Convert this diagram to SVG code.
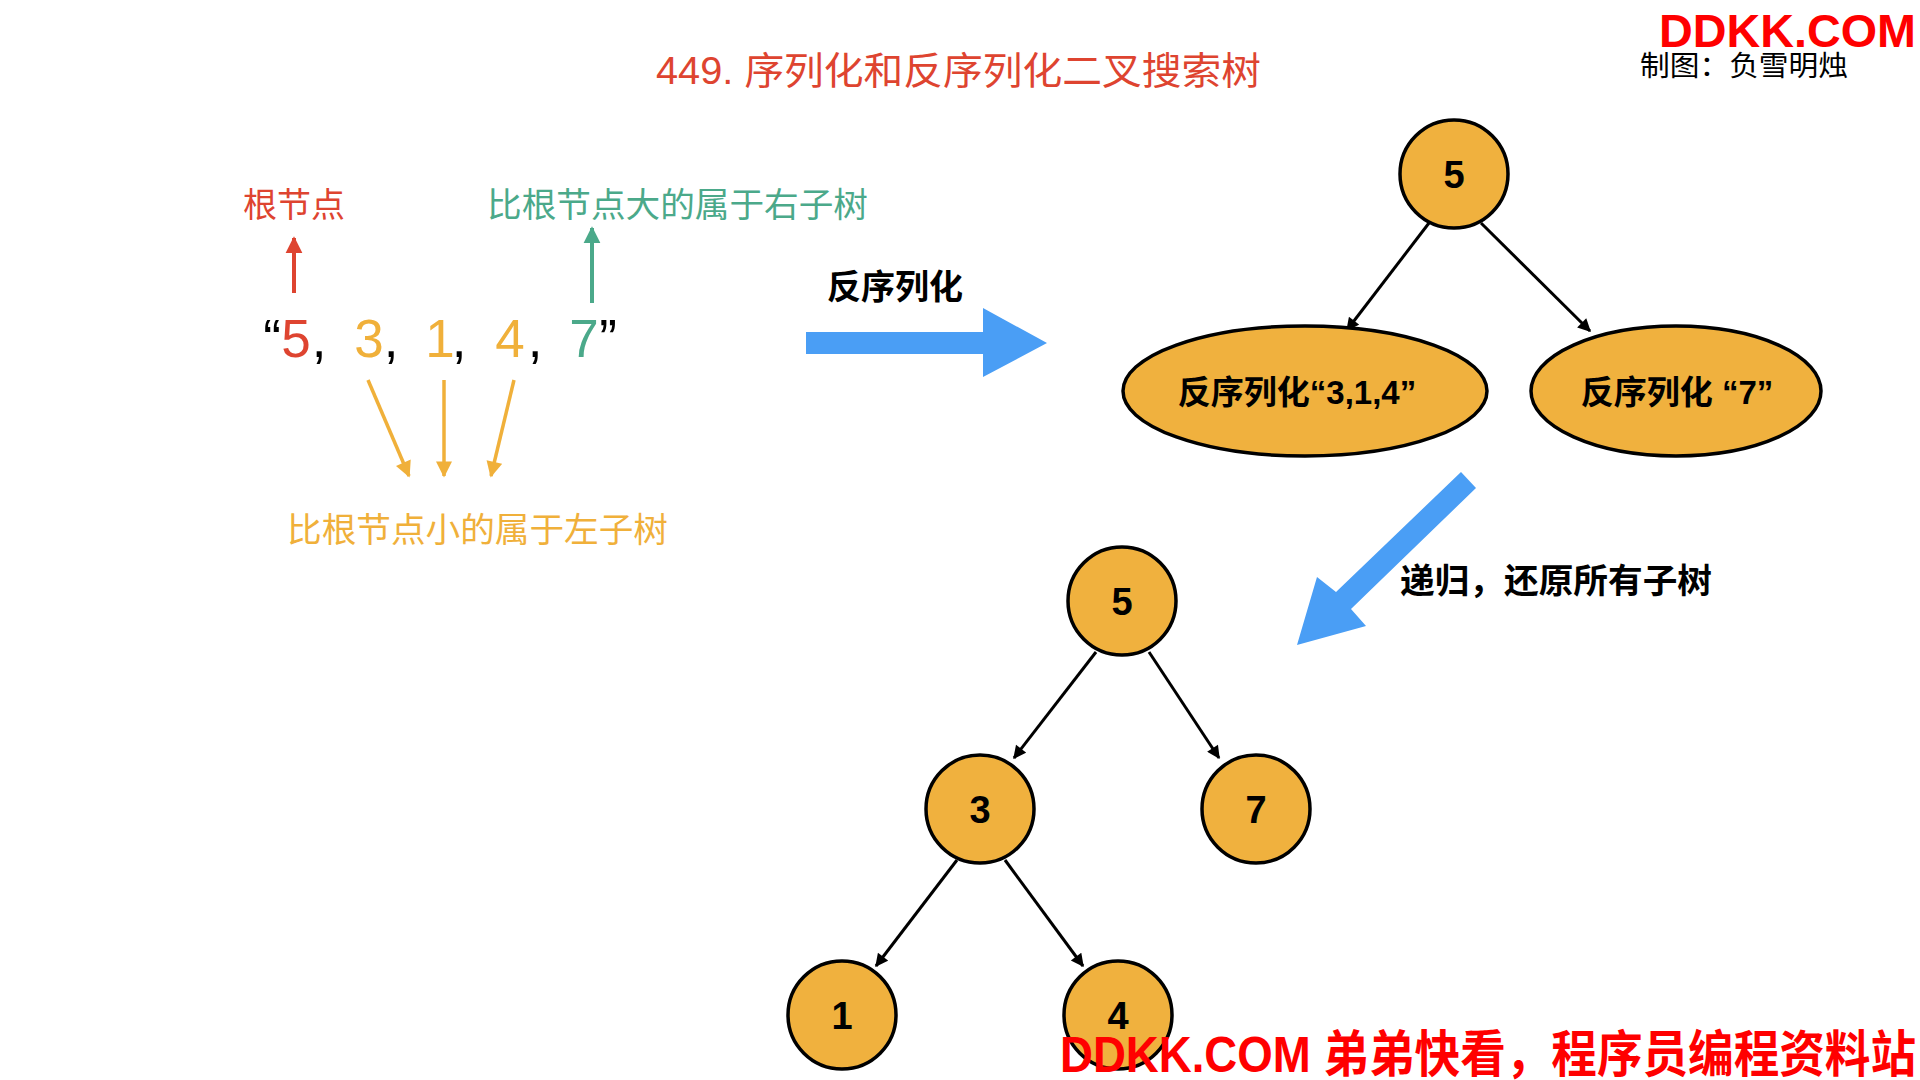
<svg xmlns="http://www.w3.org/2000/svg" width="1920" height="1080" viewBox="0 0 1920 1080">
<style>
text{font-family:"Liberation Sans","Noto Sans CJK SC",sans-serif}
.cjk{font-family:"Noto Sans CJK SC","Liberation Sans",sans-serif}
.node{fill:#F0B13E;stroke:#000;stroke-width:3.5}
.num{font-size:38px;font-weight:bold;fill:#000;text-anchor:middle}
.lbl{font-size:33px;font-weight:bold;fill:#000;text-anchor:middle}
.edge{stroke:#000;stroke-width:3;fill:none;marker-end:url(#ah)}
.blue{fill:#4A9EF5}
</style>
<defs>
<marker id="ah" viewBox="0 0 10 10" refX="9" refY="5" markerWidth="15" markerHeight="13" markerUnits="userSpaceOnUse" orient="auto"><path d="M0,0L10,5L0,10z" fill="#000"/></marker>
<marker id="ahr" viewBox="0 0 10 10" refX="9" refY="5" markerWidth="17" markerHeight="18" markerUnits="userSpaceOnUse" orient="auto"><path d="M0,0L10,5L0,10z" fill="#DE4430"/></marker>
<marker id="ahg" viewBox="0 0 10 10" refX="9" refY="5" markerWidth="17" markerHeight="18" markerUnits="userSpaceOnUse" orient="auto"><path d="M0,0L10,5L0,10z" fill="#4BA98A"/></marker>
<marker id="aho" viewBox="0 0 10 10" refX="9" refY="5" markerWidth="17" markerHeight="16" markerUnits="userSpaceOnUse" orient="auto"><path d="M0,0L10,5L0,10z" fill="#F0B03A"/></marker>
</defs>
<rect width="1920" height="1080" fill="#fff"/>

<g id="title">
<text x="656" y="84" font-size="38" fill="#DE4430" textLength="605" lengthAdjust="spacingAndGlyphs">449. 序列化和反序列化二叉搜索树</text>
</g>
<g id="watermark-top">
<text x="1659" y="47" font-size="47" font-weight="bold" fill="#FF0000" textLength="257" lengthAdjust="spacingAndGlyphs">DDKK.COM</text>
<text class="cjk" x="1640" y="76" font-size="28" fill="#000" textLength="208" lengthAdjust="spacingAndGlyphs">制图：负雪明烛</text>
</g>

<g id="left-explain">
<text class="cjk" x="243" y="217" font-size="34" fill="#DE4430" textLength="102" lengthAdjust="spacingAndGlyphs">根节点</text>
<text class="cjk" x="487" y="217" font-size="34" fill="#4BA98A" textLength="381" lengthAdjust="spacingAndGlyphs">比根节点大的属于右子树</text>
<text class="cjk" x="287" y="542" font-size="34" fill="#F0B03A" textLength="381" lengthAdjust="spacingAndGlyphs">比根节点小的属于左子树</text>
<g font-size="53" text-anchor="middle">
<text x="272" y="357" fill="#000">“</text>
<text x="296" y="357" fill="#DE4430">5</text>
<text x="319" y="357" fill="#000">,</text>
<text x="369" y="357" fill="#F0B03A">3</text>
<text x="391" y="357" fill="#000">,</text>
<text x="440" y="357" fill="#F0B03A">1</text>
<text x="459" y="357" fill="#000">,</text>
<text x="510" y="357" fill="#F0B03A">4</text>
<text x="535" y="357" fill="#000">,</text>
<text x="584" y="357" fill="#4BA98A">7</text>
<text x="608" y="357" fill="#000">”</text>
</g>
</g>

<g id="left-arrows">
<line x1="294" y1="293" x2="294" y2="238" stroke="#DE4430" stroke-width="4" marker-end="url(#ahr)"/>
<line x1="592" y1="303" x2="592" y2="228" stroke="#4BA98A" stroke-width="4" marker-end="url(#ahg)"/>
<line x1="368" y1="380" x2="409" y2="476" stroke="#F0B03A" stroke-width="3.5" marker-end="url(#aho)"/>
<line x1="444" y1="380" x2="444" y2="476" stroke="#F0B03A" stroke-width="3.5" marker-end="url(#aho)"/>
<line x1="514" y1="380" x2="491" y2="476" stroke="#F0B03A" stroke-width="3.5" marker-end="url(#aho)"/>
</g>

<g id="step1">
<text class="cjk" x="827" y="299" font-size="34" font-weight="bold" fill="#000" textLength="136" lengthAdjust="spacingAndGlyphs">反序列化</text>
<polygon class="blue" points="806,332 983,332 983,308 1047,343 983,377 983,354 806,354"/>
</g>

<g id="step2">
<polygon class="blue" points="1461,472 1476,488 1351,609 1366,626 1297,645 1317,577 1336,592"/>
<text class="cjk" x="1400" y="593" font-size="34" font-weight="bold" fill="#000" textLength="312" lengthAdjust="spacingAndGlyphs">递归，还原所有子树</text>
</g>

<g id="connectors">
<line class="edge" x1="1429" y1="223" x2="1347" y2="330"/>
<line class="edge" x1="1481" y1="223" x2="1590" y2="331"/>
<line class="edge" x1="1096" y1="652" x2="1014" y2="758"/>
<line class="edge" x1="1149" y1="652" x2="1219" y2="758"/>
<line class="edge" x1="957" y1="860" x2="876" y2="966"/>
<line class="edge" x1="1005" y1="860" x2="1083" y2="966"/>
</g>

<g id="top-root">
<circle class="node" cx="1454" cy="174" r="54"/>
<text class="num" x="1454" y="188">5</text>
</g>
<g id="top-left">
<ellipse class="node" cx="1305" cy="391" rx="182" ry="65"/>
<text class="lbl" x="1297" y="404">反序列化“3,1,4”</text>
</g>
<g id="top-right">
<ellipse class="node" cx="1676" cy="391" rx="145" ry="65"/>
<text class="lbl" x="1677" y="404">反序列化 “7”</text>
</g>

<g id="node-5">
<circle class="node" cx="1122" cy="601" r="54"/>
<text class="num" x="1122" y="615">5</text>
</g>
<g id="node-3">
<circle class="node" cx="980" cy="809" r="54"/>
<text class="num" x="980" y="823">3</text>
</g>
<g id="node-7">
<circle class="node" cx="1256" cy="809" r="54"/>
<text class="num" x="1256" y="823">7</text>
</g>
<g id="node-1">
<circle class="node" cx="842" cy="1015" r="54"/>
<text class="num" x="842" y="1029">1</text>
</g>
<g id="node-4">
<circle class="node" cx="1118" cy="1015" r="54"/>
<text class="num" x="1118" y="1029">4</text>
</g>

<g id="watermark-bottom">
<text x="1060" y="1072" font-size="50" font-weight="bold" fill="#FF0000" textLength="856" lengthAdjust="spacingAndGlyphs">DDKK.COM 弟弟快看，程序员编程资料站</text>
</g>
</svg>
